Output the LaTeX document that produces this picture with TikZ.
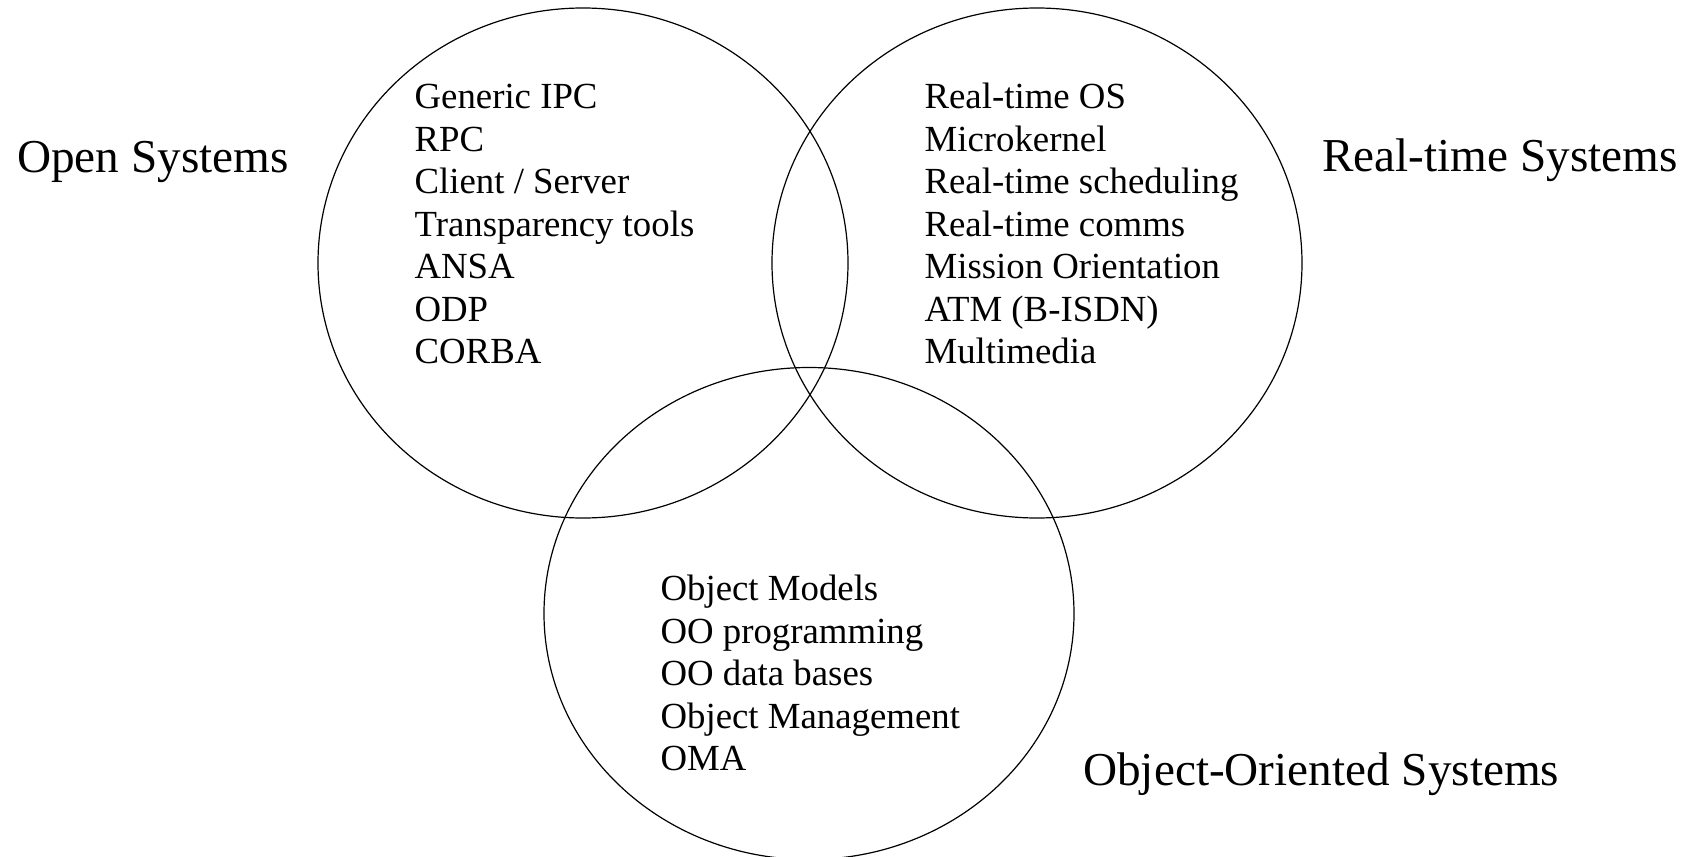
\documentclass[tikz,border=0pt]{standalone}
\usepackage{fontspec}
\setmainfont{Liberation Serif}

\begin{document}
\begin{tikzpicture}[x=0.5pt, y=-0.5pt, line width=0.6pt,
    item/.style={font=\fontsize{18.4}{22}\selectfont, inner sep=0pt, anchor=base west},
    title/.style={font=\fontsize{23.6}{28}\selectfont, inner sep=0pt, anchor=base west}]
  % page in pixel units, y downwards
  \useasboundingbox (0,0) rectangle (1694,857);
  \def\pitch{42.5}   % line spacing of the lists
  % the three sets
  \draw (583,263) ellipse [x radius=265, y radius=255];
  \draw (1037,263) ellipse [x radius=265, y radius=255];
  \draw (809,613.5) ellipse [x radius=265, y radius=246];
  % set names
  \node[title] (open) at (16.7,172.7) {Open Systems};
  \node[title] (rt) at (1321.7,171.7) {Real-time Systems};
  \node[title] (oo) at (1082.7,785) {Object-Oriented Systems};
  % contents of each set
  \foreach \t [count=\i] in {Generic IPC, RPC, Client / Server, Transparency tools, ANSA, ODP, CORBA}
    \node[item] (open\i) at (414,{108.5+(\i-1)*\pitch}) {\t};
  \foreach \t [count=\i] in {Real-time OS, Microkernel, Real-time scheduling, Real-time comms, Mission Orientation, ATM (B-ISDN), Multimedia}
    \node[item] (rt\i) at (924,{108.5+(\i-1)*\pitch}) {\t};
  \foreach \t [count=\i] in {Object Models, OO programming, OO data bases, Object Management, OMA}
    \node[item] (oo\i) at (660,{600.7+(\i-1)*\pitch}) {\t};
\end{tikzpicture}
\end{document}
